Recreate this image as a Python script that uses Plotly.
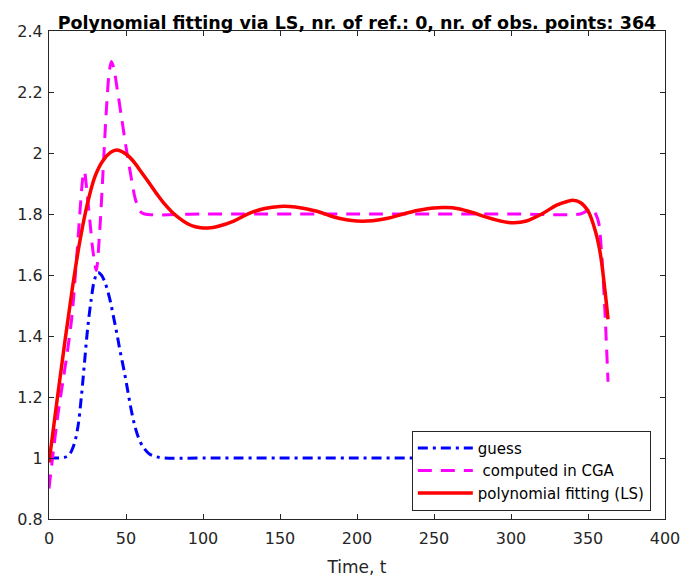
import plotly.graph_objects as go

# guess (blue dash-dot)
guess_t = [0, 5, 10, 13, 16, 18.7, 21, 23, 25, 27.4, 29.6, 31.7, 34, 36, 38, 40, 42, 44, 46, 49, 51.5, 53.5, 56, 59, 62, 65, 69, 75, 100, 200, 300, 363]
guess_y = [1.0, 1.0, 1.002, 1.01, 1.04, 1.10, 1.20, 1.31, 1.42, 1.52, 1.585, 1.608, 1.60, 1.58, 1.55, 1.51, 1.46, 1.41, 1.355, 1.28, 1.21, 1.155, 1.10, 1.055, 1.03, 1.014, 1.005, 1.0, 1.0, 1.0, 1.0, 1.0]

# computed in CGA (magenta dashed)
cga_t = [0, 3, 6, 9, 12, 15, 18, 20, 22, 23, 24.5, 26.5, 28.5, 30.7, 33, 35, 37, 39, 40.5, 42, 44, 47, 50, 53, 56, 59, 62, 100, 200, 300, 345, 349, 351, 353, 355, 357, 359, 361, 363]
cga_y = [0.90, 1.03, 1.15, 1.25, 1.35, 1.47, 1.66, 1.80, 1.92, 1.94, 1.88, 1.78, 1.68, 1.615, 1.75, 1.93, 2.12, 2.26, 2.30, 2.28, 2.22, 2.12, 2.02, 1.93, 1.85, 1.81, 1.80, 1.80, 1.80, 1.80, 1.80, 1.81, 1.82, 1.815, 1.80, 1.77, 1.66, 1.48, 1.25]

# polynomial fitting (LS) (red solid)
fit_t = [0, 5, 10, 15, 20, 25, 30, 35, 40, 44, 48, 52, 56, 60, 65, 70, 75, 80, 85, 90, 95, 100, 105, 110, 120, 130, 140, 150, 160, 174, 185, 193, 200, 210, 220, 230, 240, 250, 258, 265, 275, 285, 295, 302, 310, 320, 330, 337, 340, 345, 350, 355, 358, 361, 363]
fit_y = [0.985, 1.18, 1.37, 1.55, 1.71, 1.835, 1.925, 1.975, 2.002, 2.01, 2.003, 1.988, 1.965, 1.937, 1.902, 1.866, 1.833, 1.806, 1.785, 1.768, 1.758, 1.754, 1.755, 1.76, 1.777, 1.802, 1.818, 1.825, 1.823, 1.809, 1.79, 1.781, 1.777, 1.778, 1.786, 1.80, 1.812, 1.82, 1.821, 1.818, 1.805, 1.788, 1.775, 1.771, 1.777, 1.80, 1.83, 1.842, 1.845, 1.838, 1.81, 1.74, 1.67, 1.55, 1.455]

x_ticks = [0, 50, 100, 150, 200, 250, 300, 350, 400]
y_ticks = [0.8, 1.0, 1.2, 1.4, 1.6, 1.8, 2.0, 2.2, 2.4]

axis_col = "#262626"
font_fam = "DejaVu Sans, sans-serif"

fig = go.Figure()
fig.add_trace(go.Scatter(x=guess_t, y=guess_y, mode="lines", name="guess",
                         line=dict(color="#0000FF", width=3, dash="10px,5px,3px,5px", shape="spline", smoothing=1.0)))
fig.add_trace(go.Scatter(x=cga_t, y=cga_y, mode="lines", name=" computed in CGA",
                         line=dict(color="#FF00FF", width=3, dash="14px,9px", shape="spline", smoothing=0.8)))
fig.add_trace(go.Scatter(x=fit_t, y=fit_y, mode="lines", name="polynomial fitting (LS)",
                         line=dict(color="#FF0000", width=3.5, shape="spline", smoothing=1.0)))

axis_common = dict(showline=True, linecolor=axis_col, linewidth=1, mirror="ticks",
                   ticks="inside", ticklen=5, tickcolor=axis_col, showgrid=False, zeroline=False,
                   automargin=False,
                   tickfont=dict(family=font_fam, size=16, color=axis_col))

fig.update_layout(
    width=683, height=581,
    margin=dict(l=49, r=18, t=31, b=62),
    paper_bgcolor="white", plot_bgcolor="white",
    title=dict(text="<b>Polynomial fitting via LS, nr. of ref.: 0, nr. of obs. points: 364</b>",
               x=0.5, xref="paper", xanchor="center", y=1, yref="paper", yanchor="bottom",
               pad=dict(b=2), font=dict(family=font_fam, size=17.5, color="black")),
    xaxis=dict(range=[0, 400], tickvals=x_ticks, ticklabelstandoff=5,
               title=dict(text="Time, t", standoff=13,
               font=dict(family=font_fam, size=17, color=axis_col)), **axis_common),
    yaxis=dict(range=[0.8, 2.4], tickvals=y_ticks, ticklabelstandoff=2, **axis_common),
    legend=dict(x=0.589, y=0.181, xanchor="left", yanchor="top",
                bgcolor="white", bordercolor=axis_col, borderwidth=1,
                font=dict(family=font_fam, size=15, color="black"),
                itemwidth=55, tracegroupgap=0),
    showlegend=True,
)

fig.write_html("out.html")
